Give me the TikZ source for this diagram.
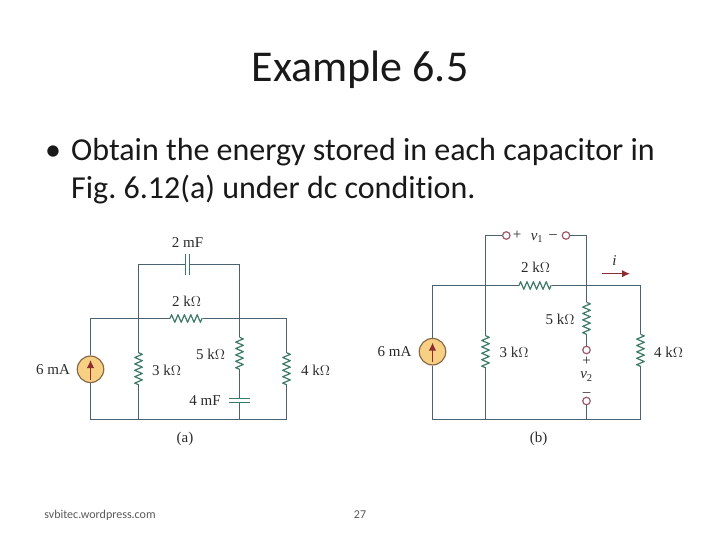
\documentclass[tikz,border=0pt]{standalone}
\usepackage{fontspec}
\setmainfont{Carlito}[Ligatures=NoCommon]
\newfontfamily\lab{Liberation Serif}
\usetikzlibrary{calc,decorations.pathmorphing,arrows.meta}
\definecolor{wirec}{HTML}{4A6272}
\definecolor{resc}{HTML}{3E7A68}
\definecolor{srcf}{HTML}{F7D083}
\definecolor{srcd}{HTML}{8A6A4A}
\definecolor{arrc}{HTML}{8E2B32}
\definecolor{termc}{HTML}{9C5A68}
\definecolor{textc}{HTML}{2A2A2A}
\tikzset{
 wire/.style={draw=wirec,line width=1.2pt},
 resi/.style={draw=resc,line width=1.2pt,line join=round,decorate,decoration={zigzag,segment length=6.4pt,amplitude=3.8pt}},
 plate/.style={draw=resc,line width=1.2pt},
 src/.style={circle,draw=srcd,fill=srcf,line width=1.2pt,minimum size=26.5pt,inner sep=0pt},
 cur/.style={draw=arrc,line width=1.5pt,-{Latex[length=8pt,width=7.5pt]}},
 term/.style={circle,draw=termc,fill=white,line width=1.2pt,minimum size=7.5pt,inner sep=0pt},
 lbl/.style={font=\lab\fontsize{15}{16}\selectfont,text=textc,inner sep=0pt},
 ttl/.style={font=\fontsize{44}{48}\selectfont,text=black!90,inner sep=0pt},
 body/.style={font=\frenchspacing\fontsize{32}{38}\selectfont,text=black!90,inner sep=0pt,anchor=base west},
 foot/.style={font=\fontsize{12}{13}\selectfont,text=black!65,inner sep=0pt},
}
\begin{document}
\begin{tikzpicture}[x=1pt,y=-1pt]
\useasboundingbox (0,0) rectangle (720,540);
\fill[white] (0,0) rectangle (720,540);
\node[ttl] (title) at (360,70) {Example 6.5};
\node[body] (bullet) at (45,161) {•};
\node[body] (l1) at (71,161) {Obtain the energy stored in each capacitor in};
\node[body] (l2) at (71,199) {Fig. 6.12(a) under dc condition.};
\node[foot] (f1) at (100,515) {svbitec.wordpress.com};
\node[foot] (f2) at (360,515) {27};

% ---- circuit (a)
\coordinate (aTL) at (90.5,318.5);
\coordinate (aBL) at (90.5,419.5);
\coordinate (a3T) at (138.5,318.5);
\coordinate (a3B) at (138.5,419.5);
\coordinate (a5T) at (239.5,318.5);
\coordinate (a5B) at (239.5,419.5);
\coordinate (aTR) at (286.5,318.5);
\coordinate (aBR) at (286.5,419.5);
\coordinate (aCL) at (138.5,264.5);
\coordinate (aCR) at (239.5,264.5);
\coordinate (aC1) at (185.5,264.5);
\coordinate (aC2) at (189.5,264.5);
\coordinate (aR2a) at (170,318.5);
\coordinate (aR2b) at (202.7,318.5);
\coordinate (aR3a) at (138.5,352.7);
\coordinate (aR3b) at (138.5,385);
\coordinate (aR5a) at (239.5,337.3);
\coordinate (aR5b) at (239.5,369.3);
\coordinate (aR4a) at (286.5,352.7);
\coordinate (aR4b) at (286.5,385);
\coordinate (aC3) at (239.5,398.5);
\coordinate (aC4) at (239.5,402.5);
\node[src] (aS) at (90.5,369.3) {};
\draw[wire] (aS) -- (aTL) -- (aR2a);
\draw[wire] (aR2b) -- (aTR) -- (aR4a);
\draw[wire] (aR4b) -- (aBR) -- (aBL) -- (aS);
\draw[wire] (aC1) -- (aCL) -- (a3T) -- (aR3a);
\draw[wire] (aR3b) -- (a3B);
\draw[wire] (aC2) -- (aCR) -- (a5T) -- (aR5a);
\draw[wire] (aR5b) -- (aC3);
\draw[wire] (aC4) -- (a5B);
\draw[resi] (aR2a) -- (aR2b);
\draw[resi] (aR3a) -- (aR3b);
\draw[resi] (aR5a) -- (aR5b);
\draw[resi] (aR4a) -- (aR4b);
\draw[plate] ($(aC1)+(0,-10.5)$) -- ($(aC1)+(0,10.5)$);
\draw[plate] ($(aC2)+(0,-10.5)$) -- ($(aC2)+(0,10.5)$);
\draw[plate] ($(aC3)+(-10.5,0)$) -- ($(aC3)+(10.5,0)$);
\draw[plate] ($(aC4)+(-10.5,0)$) -- ($(aC4)+(10.5,0)$);
\coordinate (aSb) at (90.5,379.5);
\coordinate (aSt) at (90.5,360);
\draw[cur] (aSb) -- (aSt);
\node[lbl] (a6) at (53,369.5) {6 mA};
\node[lbl] (a2m) at (187.5,242.5) {2 mF};
\node[lbl] (a2k) at (186.5,301) {2 k$\Omega$};
\node[lbl] (a3k) at (166.5,370) {3 k$\Omega$};
\node[lbl] (a5k) at (210.5,354) {5 k$\Omega$};
\node[lbl] (a4k) at (315.5,370) {4 k$\Omega$};
\node[lbl] (a4m) at (205,400.5) {4 mF};
\node[lbl] (aa) at (185,438.5) {(a)};

% ---- circuit (b)
\coordinate (bTL) at (432.5,285.5);
\coordinate (bBL) at (432.5,419.5);
\coordinate (b3T) at (485.5,285.5);
\coordinate (b3B) at (485.5,419.5);
\coordinate (b5T) at (586.5,285.5);
\coordinate (b5B) at (586.5,419.5);
\coordinate (bTR) at (640.5,285.5);
\coordinate (bBR) at (640.5,419.5);
\coordinate (bCL) at (485.5,235.5);
\coordinate (bCR) at (586.5,235.5);
\coordinate (bR2a) at (519,285.5);
\coordinate (bR2b) at (551.7,285.5);
\coordinate (bR3a) at (485.5,335.7);
\coordinate (bR3b) at (485.5,368.3);
\coordinate (bR5a) at (586.5,302.3);
\coordinate (bR5b) at (586.5,334.3);
\coordinate (bR4a) at (640.5,334.3);
\coordinate (bR4b) at (640.5,367);
\node[src] (bS) at (432.5,351.7) {};
\node[term] (bT1) at (506.3,235.5) {};
\node[term] (bT2) at (566,235.5) {};
\node[term] (bT3) at (586.5,350) {};
\node[term] (bT4) at (586.5,401) {};
\draw[wire] (bS) -- (bTL) -- (bR2a);
\draw[wire] (bR2b) -- (bTR) -- (bR4a);
\draw[wire] (bR4b) -- (bBR) -- (bBL) -- (bS);
\draw[wire] (bT1) -- (bCL) -- (b3T) -- (bR3a);
\draw[wire] (bR3b) -- (b3B);
\draw[wire] (bT2) -- (bCR) -- (b5T) -- (bR5a);
\draw[wire] (bR5b) -- (bT3);
\draw[wire] (bT4) -- (b5B);
\draw[resi] (bR2a) -- (bR2b);
\draw[resi] (bR3a) -- (bR3b);
\draw[resi] (bR5a) -- (bR5b);
\draw[resi] (bR4a) -- (bR4b);
\coordinate (bSb) at (432.5,362);
\coordinate (bSt) at (432.5,342.5);
\draw[cur] (bSb) -- (bSt);
\coordinate (bIa) at (601.7,273.7);
\coordinate (bIb) at (630,273.7);
\draw[cur] (bIa) -- (bIb);
\node[lbl] (b6) at (394.5,352) {6 mA};
\node[lbl] (b2k) at (535.5,267.5) {2 k$\Omega$};
\node[lbl] (b3k) at (514,352) {3 k$\Omega$};
\node[lbl] (b5k) at (560,319.5) {5 k$\Omega$};
\node[lbl] (b4k) at (668.5,352) {4 k$\Omega$};
\node[lbl] (bp1) at (517,235) {+};
\node[lbl] (bv1) at (537,238) {\textit{v}\textsubscript{1}};
\node[lbl] (bm1) at (553,237) {\textendash};
\node[lbl] (bp2) at (586.5,361) {+};
\node[lbl] (bv2) at (586.5,376.5) {\textit{v}\textsubscript{2}};
\node[lbl] (bm2) at (586.5,395) {\textendash};
\node[lbl] (bi) at (614.5,261) {\textit{i}};
\node[lbl] (bb) at (538.5,438.5) {(b)};
\end{tikzpicture}
\end{document}
